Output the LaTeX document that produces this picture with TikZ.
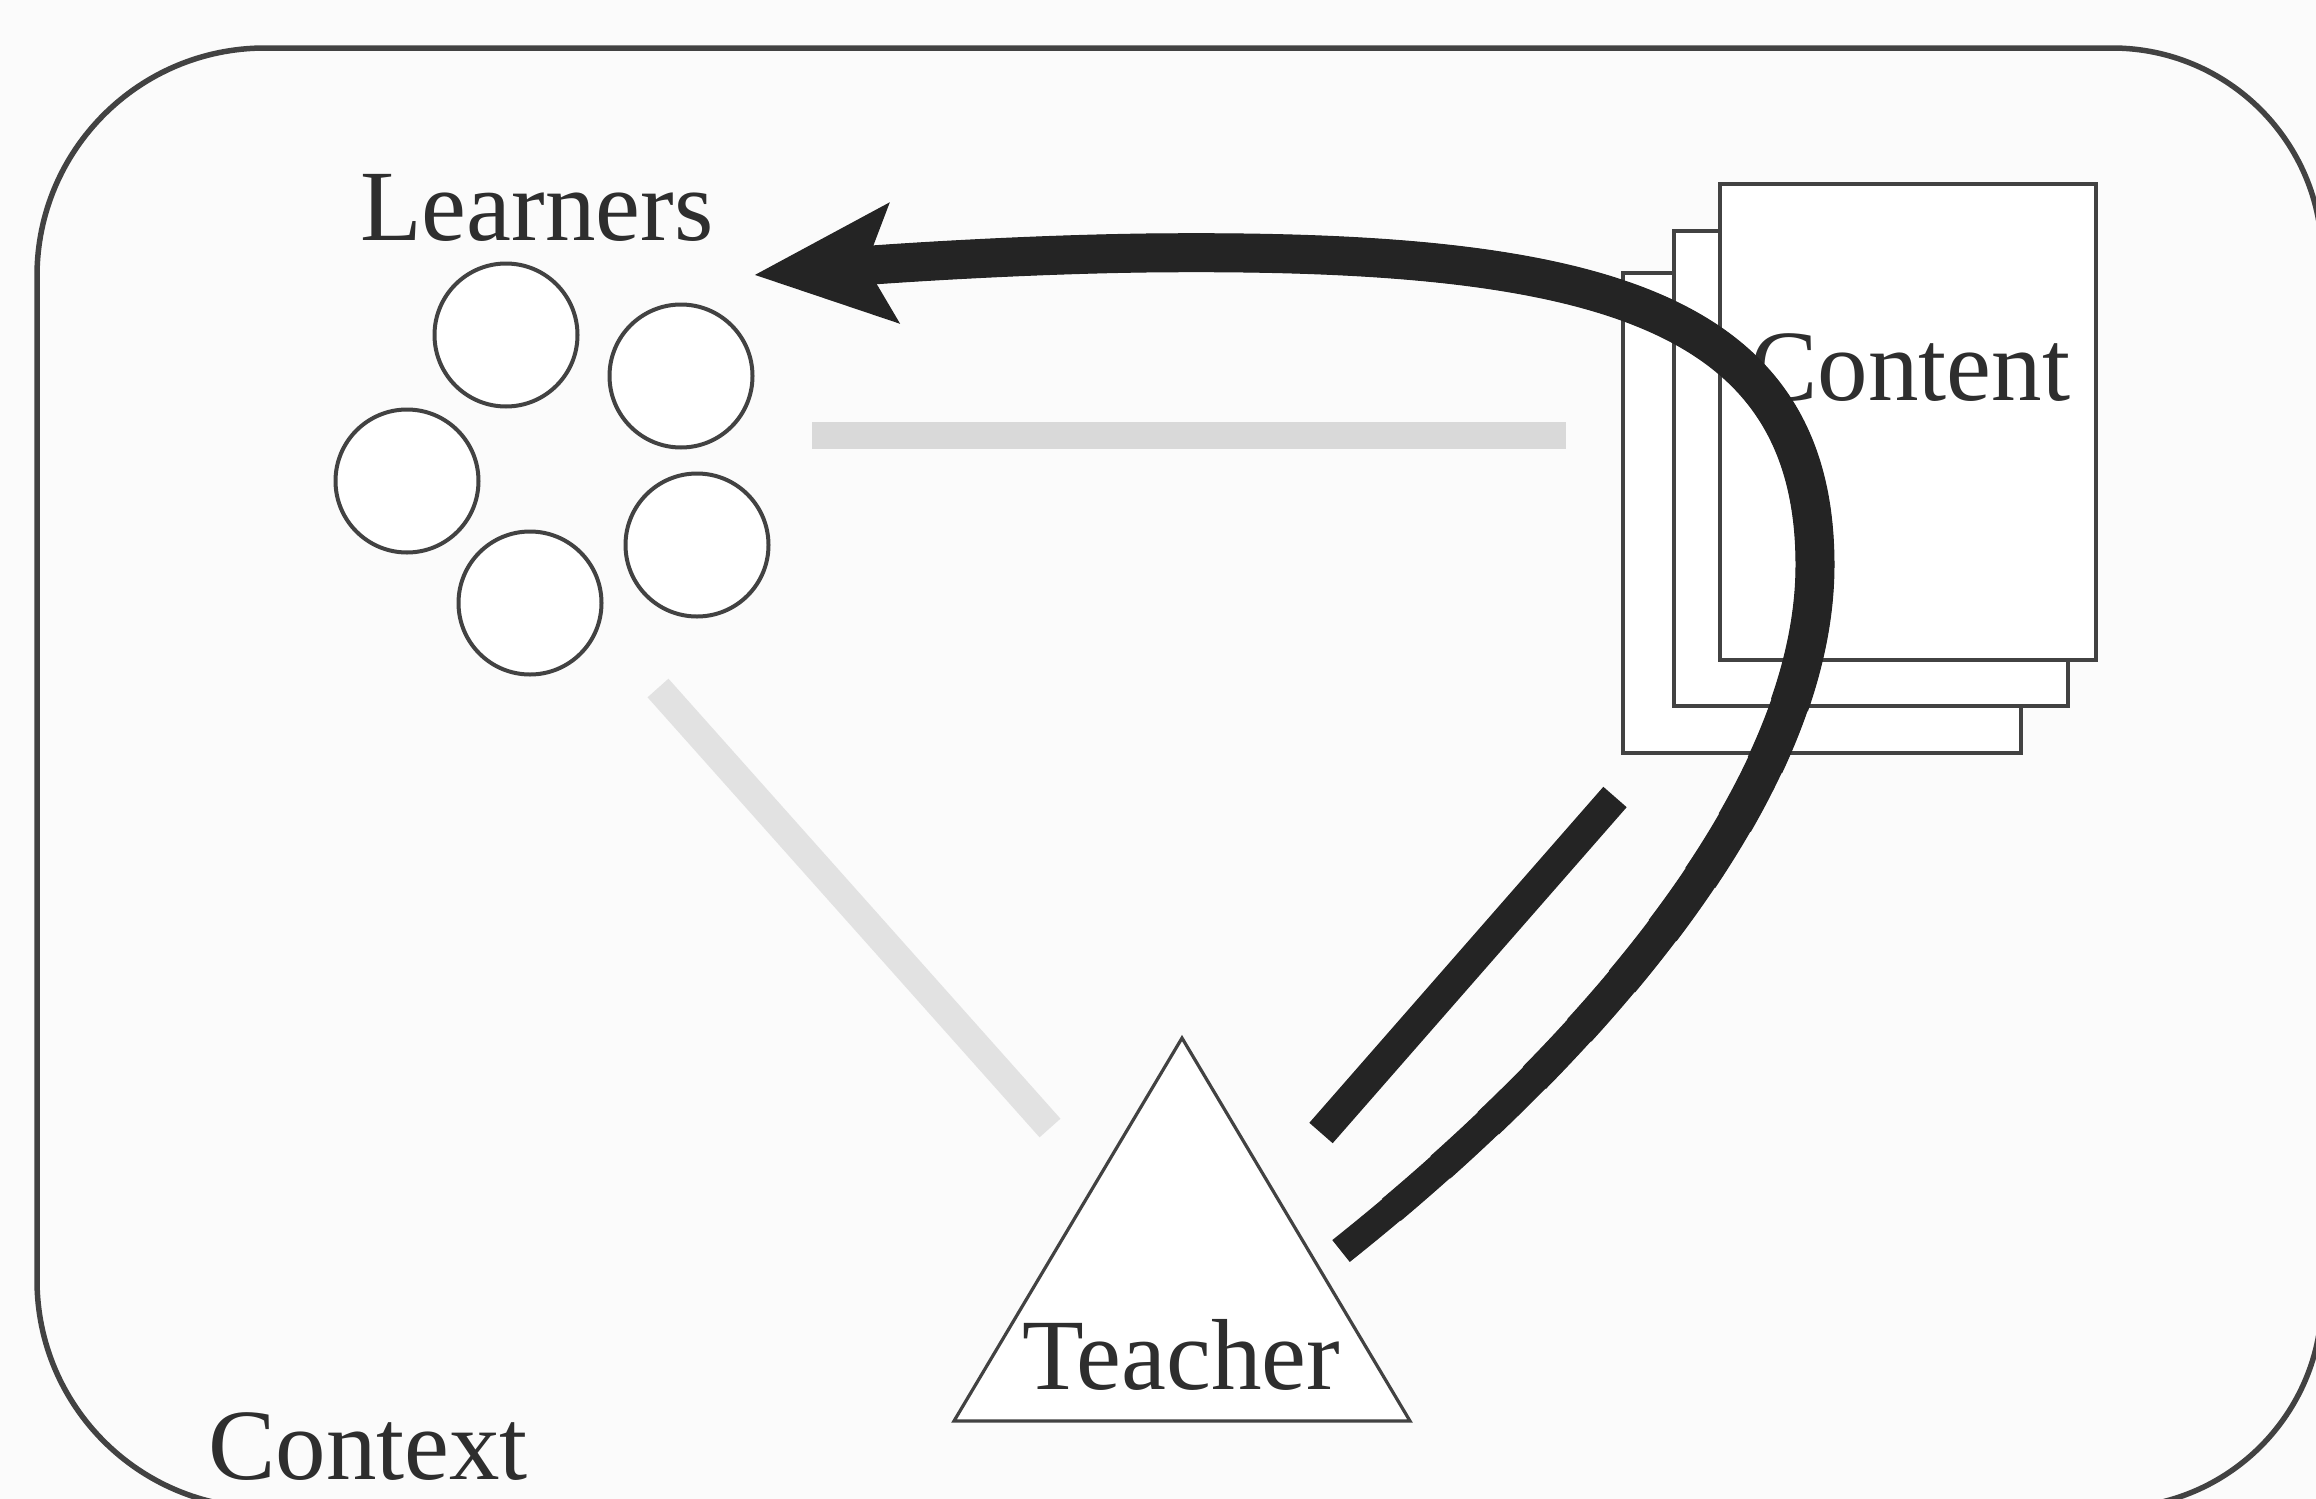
\documentclass[tikz,border=0pt]{standalone}
\usepackage{fontspec}
\setmainfont{Liberation Serif}
\usetikzlibrary{arrows.meta}
\definecolor{paper}{RGB}{251,251,251}
\definecolor{ink}{RGB}{66,66,66}
\definecolor{txt}{RGB}{46,46,46}
\definecolor{strong}{RGB}{36,36,36}
\definecolor{faintA}{RGB}{217,217,217}
\definecolor{faintB}{RGB}{226,226,226}
% route of the curved teacher-to-learners arrow
\newcommand{\arcroute}{(arrStart) .. controls (1575,1065) and (1815,800) .. (1815,565)
  .. controls (1815,305) and (1590,248) .. (1146,253)
  .. controls (1000,255) and (860,266) .. (arrTip)}
\begin{document}
\begin{tikzpicture}[x=1pt,y=-1pt,
  lbl/.style={font=\fontsize{101}{110}\selectfont, text=txt, inner sep=0pt, anchor=base west},
  learner/.style={circle, draw=ink, line width=4pt, fill=white, minimum size=143pt, inner sep=0pt},
  page/.style={rectangle, draw=ink, line width=3.5pt, fill=white, inner sep=0pt},
  weaklink/.style={line width=27pt, line cap=butt},
  stronglink/.style={draw=strong, line width=30pt, line cap=butt},
]
% canvas
\fill[paper] (0,0) rectangle (2316,1499);
\useasboundingbox (0,0) rectangle (2316,1499);
\clip (0,0) rectangle (2316,1499);

% context frame
\draw[ink, line width=5.5pt] (1100,48) [rounded corners=228pt] -- (37,48) -- (37,1508) -- (1100,1508)
  [rounded corners=210pt] -- (2322,1508) -- (2322,48) -- cycle;

% weak (grey) relations
\coordinate (hA) at (812,435);
\coordinate (hB) at (1566,435);
\coordinate (dA) at (658,688);
\coordinate (dB) at (1050,1128);
\draw[faintA, weaklink] (hA) -- (hB);
\draw[faintB, weaklink, line width=28pt] (dA) -- (dB);

% learners
\node[learner] (l1) at (506,335) {};
\node[learner] (l2) at (681,376) {};
\node[learner] (l3) at (407,481) {};
\node[learner] (l4) at (530,603) {};
\node[learner] (l5) at (697,545) {};
\node[lbl] (learners) at (360,240) {Learners};

% content pages
\node[page, minimum width=398pt, minimum height=480pt] (page3) at (1822,513) {};
\node[page, minimum width=394pt, minimum height=475pt] (page2) at (1871,468.5) {};
\node[page, minimum width=376pt, minimum height=476pt] (page1) at (1908,422) {};
\node[lbl] (content) at (1750,400) {Content};

% teacher
\coordinate (tTop) at (1182,1038);
\coordinate (tRight) at (1410,1421);
\coordinate (tLeft) at (954,1421);
\draw[ink, line width=3.2pt, fill=white, line join=miter] (tTop) -- (tRight) -- (tLeft) -- cycle;
\node[lbl] (teacher) at (1022,1389) {Teacher};

\node[lbl] (context) at (208,1479) {Context};

% strong relations
\coordinate (bA) at (1321,1133);
\coordinate (bB) at (1615,797);
\draw[stronglink, line width=31pt] (bA) -- (bB);

\coordinate (arrStart) at (1341,1251);
\coordinate (arrTip) at (754,275);
% the arc thickens gradually from the teacher end towards the head
\draw[stronglink, line width=28pt, -{Stealth[length=138pt, width=116pt, inset=26pt]}] \arcroute;
\foreach \k [evaluate=\k as \gap using 65*\k, evaluate=\k as \wd using 28+\k] in {1,...,11}
  \draw[stronglink, line width=\wd pt, shorten >=118pt, dash pattern=on 0pt off \gap pt on 6000pt] \arcroute;
\end{tikzpicture}
\end{document}
